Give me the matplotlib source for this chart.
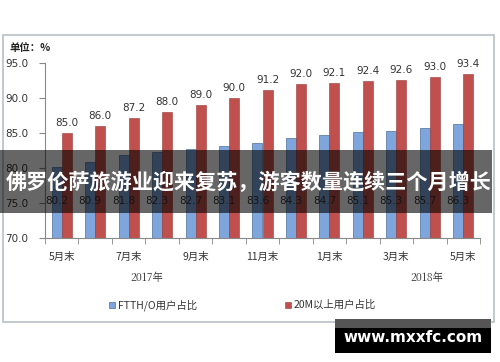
import numpy as np
import matplotlib.pyplot as plt
from matplotlib.patches import Rectangle

plt.rcParams['font.family'] = ['Noto Sans CJK SC', 'DejaVu Sans']

months = ['5月末', '6月末', '7月末', '8月末', '9月末', '10月末', '11月末',
          '12月末', '1月末', '2月末', '3月末', '4月末', '5月末']
ftth = [80.2, 80.9, 81.8, 82.3, 82.7, 83.1, 83.6, 84.3, 84.7, 85.1, 85.3, 85.7, 86.3]
m20 = [85.0, 86.0, 87.2, 88.0, 89.0, 90.0, 91.2, 92.0, 92.1, 92.4, 92.6, 93.0, 93.4]
yticks = [70.0, 75.0, 80.0, 85.0, 90.0, 95.0]
legend_names = ['FTTH/O用户占比', '20M以上用户占比']
years = ['2017年', '2018年']
banner = '佛罗伦萨旅游业迎来复苏，游客数量连续三个月增长'
watermark = 'www.mxxfc.com'

blue = '#7ea6dc'
red = '#c0504d'

fig = plt.figure(figsize=(5, 3.62), dpi=100)
fig.patch.set_facecolor('white')

# chart frame
fig.patches.append(Rectangle((3/500, 1-322/362), 491/500, 287/362, transform=fig.transFigure,
                             fill=False, edgecolor='#b8c0c4', lw=1.2))

ax = fig.add_axes([45/500, 1-238/362, 435/500, 175/362])
x = np.arange(len(months))
w = 0.3
ax.bar(x - w/2, ftth, w, color=blue, edgecolor='#4a6f9a', lw=0.5)
ax.bar(x + w/2, m20, w, color=red, edgecolor='#9a3b38', lw=0.4)
ax.set_ylim(70, 95)
ax.set_xlim(-0.5, len(months) - 0.5)

for i, v in enumerate(m20):
    ax.text(x[i] + w/2, v + 0.7, '%.1f' % v, ha='center', va='bottom', fontsize=7.5,
            color='#333333', family=['DejaVu Sans'])
for i, v in enumerate(ftth):
    ax.text(x[i] - w/2, 75.3, '%.1f' % v, ha='center', va='center', fontsize=7.5,
            color='#333333', family=['DejaVu Sans'])

ax.set_yticks(yticks)
ax.set_yticklabels(['%.1f' % t for t in yticks], fontsize=7.5, color='#333333',
                   family=['DejaVu Sans'])
ax.set_xticks(np.arange(len(months) + 1) - 0.5, minor=True)
ax.set_xticks(x[::2])
ax.set_xticklabels(months[::2], fontsize=7.5, color='#333333')
ax.tick_params(axis='x', which='major', length=0, pad=10)
ax.tick_params(axis='x', which='minor', length=4, color='#888888')
ax.tick_params(axis='y', length=4, color='#888888', pad=8)
for s in ['top', 'right']:
    ax.spines[s].set_visible(False)
for s in ['left', 'bottom']:
    ax.spines[s].set_color('#888888')
    ax.spines[s].set_linewidth(0.8)

fig.text(10/500, 1-48/362, '单位：%', fontsize=7.5, fontweight='bold', color='#222222',
         va='center')
fig.text(147/500, 1-278/362, years[0], fontsize=7.5, color='#333333', ha='center',
         va='center', family=['Noto Serif CJK SC', 'Noto Sans CJK SC'])
fig.text(427/500, 1-278/362, years[1], fontsize=7.5, color='#333333', ha='center',
         va='center', family=['Noto Serif CJK SC', 'Noto Sans CJK SC'])

# legend
fig.patches.append(Rectangle((109/500, 1-308/362), 6/500, 6/362, transform=fig.transFigure,
                             facecolor=blue, edgecolor='#4a6f9a', lw=0.5))
fig.text(118/500, 1-305/362, legend_names[0], fontsize=7.5, color='#333333', va='center')
fig.patches.append(Rectangle((285/500, 1-308/362), 6/500, 6/362, transform=fig.transFigure,
                             facecolor=red, edgecolor='#9a3b38', lw=0.4))
fig.text(294/500, 1-305/362, legend_names[1], fontsize=7.5, color='#333333', va='center')

# overlay banner
fig.patches.append(Rectangle((0, 1-213/362), 492/500, 63/362, transform=fig.transFigure,
                             facecolor='black', alpha=0.6, lw=0, zorder=10))
fig.text(249/500, 1-182/362, banner, fontsize=15.2, fontweight='bold', color='white',
         ha='center', va='center', zorder=11)

# watermark
fig.patches.append(Rectangle((335/500, 1-328/362), 156/500, 9/362, transform=fig.transFigure,
                             facecolor='#555555', lw=0, zorder=10))
fig.patches.append(Rectangle((335/500, 1-353/362), 156/500, 25/362, transform=fig.transFigure,
                             facecolor='black', lw=0, zorder=10))
fig.text(413/500, 1-337/362, watermark, fontsize=11, fontweight='bold', color='white',
         ha='center', va='center', zorder=11, family=['DejaVu Sans'])

fig.savefig('out.png', dpi=100)
